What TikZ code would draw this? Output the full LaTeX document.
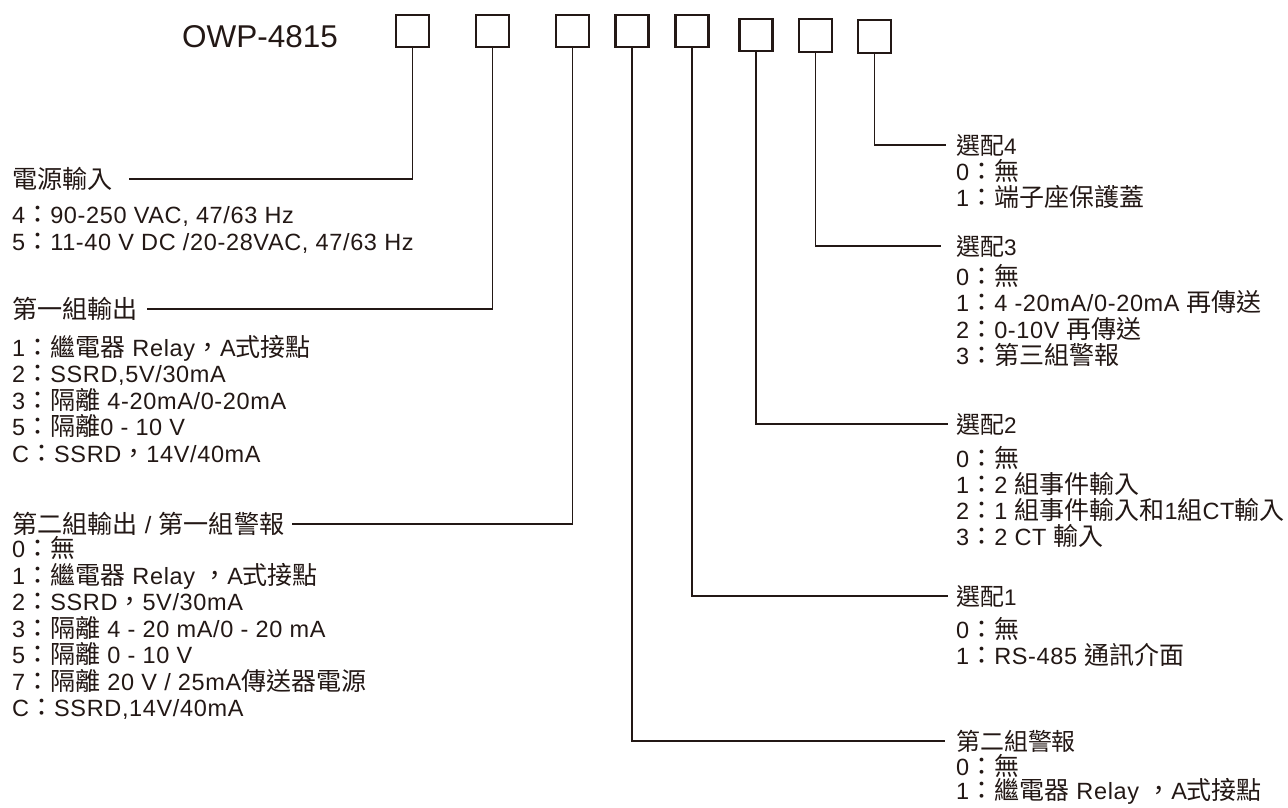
\documentclass[tikz,border=0pt]{standalone}
\usepackage{fontspec}
\setmainfont{Liberation Sans}[LetterSpace=2.75]
\newfontfamily\plain{Liberation Sans}
\newfontfamily\cj{Noto Sans CJK TC}[Scale=1.064]
\definecolor{ink}{HTML}{231815}
\begin{document}
\begin{tikzpicture}[x=1pt,y=-1pt,
  item/.style={anchor=base west, inner sep=0pt, text=ink, font=\fontsize{23.5}{28}\selectfont},
  ltitle/.style={anchor=west, inner sep=0pt, text=ink, font=\fontsize{23.6}{30}\selectfont},
  rtitle/.style={anchor=west, inner sep=0pt, text=ink, font=\fontsize{22.5}{28}\selectfont},
  pbox/.style={draw=ink, line width=2.1pt, minimum width=33pt, minimum height=32.5pt, inner sep=0pt},
  conn/.style={draw=ink, line width=1.5pt}]
\fill[white] (0,0) rectangle (1288,807);
\useasboundingbox (0,0) rectangle (1288,807);

\node[anchor=base west, inner sep=0pt, text=ink, font=\plain\fontsize{31.5}{38}\selectfont] (model) at (182,47) {OWP-4815};

\node[pbox] (b1) at (412.5,31) {};
\node[pbox] (b2) at (492.5,31) {};
\node[pbox] (b3) at (572.5,31) {};
\node[pbox] (b4) at (632,31) {};
\node[pbox] (b5) at (692,31) {};
\node[pbox] (b6) at (756,35) {};
\node[pbox] (b7) at (815.5,35.5) {};
\node[pbox] (b8) at (874.5,36.5) {};

% left titles
\node[ltitle] (t1) at (12,179) {{\cj 電源輸入}};
\node[ltitle] (t2) at (12,309) {{\cj 第一組輸出}};
\node[ltitle] (t3) at (12,524) {{\cj 第二組輸出} / {\cj 第一組警報}};

% right titles
\node[rtitle] (r4) at (956,145) {{\cj 選配}4};
\node[rtitle] (r3) at (956,246) {{\cj 選配}3};
\node[rtitle] (r2) at (956,424) {{\cj 選配}2};
\node[rtitle] (r1) at (956,596) {{\cj 選配}1};
\node[rtitle] (r0) at (956,741) {{\cj 第二組警報}};

% connectors
\draw[conn] (b1.south) |- ([xshift=16pt]t1.east);
\draw[conn] (b2.south) |- ([xshift=9pt]t2.east);
\draw[conn] (b3.south) |- ([xshift=8pt]t3.east);
\draw[conn] (b4.south) |- ([xshift=-11pt]r0.west);
\draw[conn] (b5.south) |- ([xshift=-8pt]r1.west);
\draw[conn] (b6.south) |- ([xshift=-8pt]r2.west);
\draw[conn] (b7.south) |- ([xshift=-15pt]r3.west);
\draw[conn] (b8.south) |- ([xshift=-10pt]r4.west);

% left items
\foreach \t [count=\i] in {
  {4{\cj ：}90-250 VAC, 47/63 Hz},
  {5{\cj ：}11-40 V DC /20-28VAC, 47/63 Hz}}
  \node[item] (pa-\i) at (12,{223+27*(\i-1)}) {\t};

\foreach \t [count=\i] in {
  {1{\cj ：繼電器} Relay{\cj ，}A{\cj 式接點}},
  {2{\cj ：}SSRD,5V/30mA},
  {3{\cj ：隔離} 4-20mA/0-20mA},
  {5{\cj ：隔離}0 - 10 V},
  {C{\cj ：}SSRD{\cj ，}14V/40mA}}
  \node[item] (pb-\i) at (12,{356+26.6*(\i-1)}) {\t};

\foreach \t [count=\i] in {
  {0{\cj ：無}},
  {1{\cj ：繼電器} Relay {\cj ，}A{\cj 式接點}},
  {2{\cj ：}SSRD{\cj ，}5V/30mA},
  {3{\cj ：隔離} 4 - 20 mA/0 - 20 mA},
  {5{\cj ：隔離} 0 - 10 V},
  {7{\cj ：隔離} 20 V / 25mA{\cj 傳送器電源}},
  {C{\cj ：}SSRD,14V/40mA}}
  \node[item] (pc-\i) at (12,{557.5+26.5*(\i-1)}) {\t};

% right items
\foreach \t [count=\i] in {
  {0{\cj ：無}},
  {1{\cj ：端子座保護蓋}}}
  \node[item] (q4-\i) at (956,{180+26*(\i-1)}) {\t};

\foreach \t [count=\i] in {
  {0{\cj ：無}},
  {1{\cj ：}4 -20mA/0-20mA {\cj 再傳送}},
  {2{\cj ：}0-10V {\cj 再傳送}},
  {3{\cj ：第三組警報}}}
  \node[item] (q3-\i) at (956,{285+26.5*(\i-1)}) {\t};

\foreach \t [count=\i] in {
  {0{\cj ：無}},
  {1{\cj ：}2 {\cj 組事件輸入}},
  {2{\cj ：}1 {\cj 組事件輸入和}1{\cj 組}CT{\cj 輸入}},
  {3{\cj ：}2 CT {\cj 輸入}}}
  \node[item] (q2-\i) at (956,{467+26*(\i-1)}) {\t};

\foreach \t [count=\i] in {
  {0{\cj ：無}},
  {1{\cj ：}RS-485 {\cj 通訊介面}}}
  \node[item] (q1-\i) at (956,{638+26*(\i-1)}) {\t};

\foreach \t [count=\i] in {
  {0{\cj ：無}},
  {1{\cj ：繼電器} Relay {\cj ，}A{\cj 式接點}}}
  \node[item] (q0-\i) at (956,{775+24.5*(\i-1)}) {\t};
\end{tikzpicture}
\end{document}
